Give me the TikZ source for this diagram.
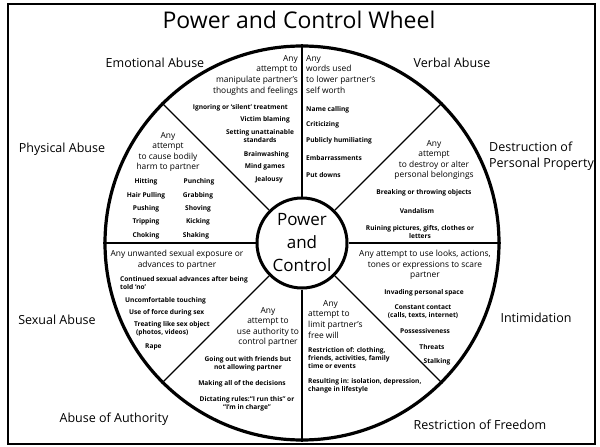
\documentclass[tikz,border=0pt]{standalone}
\usepackage{fontspec}
\setmainfont{Open Sans}
\newfontfamily\itemfont[Ligatures=TeX]{Open Sans}
\usetikzlibrary{positioning}

\tikzset{
  hdr/.style={inner sep=0pt, font=\fontsize{8.4}{10.6}\selectfont},
  itm/.style={inner sep=0pt, font=\itemfont\bfseries\fontsize{6.6}{8.2}\selectfont},
  sector/.style={inner sep=0pt, font=\fontsize{12.5}{16}\selectfont},
}

\begin{document}
\begin{tikzpicture}[x=1pt, y=-1pt]
  \useasboundingbox (0,0) rectangle (600,447);
  \draw [line width=1.8pt] (8,4) rectangle (595,444);
  \node (title) at (299,20) [inner sep=0pt, font=\fontsize{23}{26}\selectfont] {Power and Control Wheel};

  % the wheel
  \node (wheel) at (302,243) [circle, draw, line width=3.2pt, minimum size=394pt, inner sep=0pt] {};
  \node (hub) at (302,243) [circle, draw, line width=3pt, minimum size=90pt, inner sep=0pt,
    align=center, font=\fontsize{17}{23}\selectfont] {Power\\and\\Control};
  \foreach \a in {0,45,...,315}
    \draw [line width=1.4pt] (hub.\a) -- (wheel.\a);

  % sector names
  \node (emo) at (155,63) [sector] {Emotional Abuse};
  \node (verb) at (452,63) [sector] {Verbal Abuse};
  \node (phys) at (62,149) [sector] {Physical Abuse};
  \node (destr) at (489,156) [sector, anchor=west, align=left] {Destruction of\\Personal Property};
  \node (sex) at (57,320) [sector] {Sexual Abuse};
  \node (intim) at (536,318) [sector] {Intimidation};
  \node (auth) at (114,419) [sector] {Abuse of Authority};
  \node (free) at (480,425) [sector] {Restriction of Freedom};

  % emotional abuse
  \node (emoh) at (298,55) [hdr, anchor=north east, align=right]
    {Any\\attempt to\\manipulate partner's\\thoughts and feelings};
  \node (emo1) at (288,108) [itm, anchor=east] {Ignoring or `silent' treatment};
  \node (emo2) at (290,120) [itm, anchor=east] {Victim blaming};
  \node (emo3) at (260,136) [itm, align=center] {Setting unattainable\\standards};
  \node (emo4) at (289,155) [itm, anchor=east] {Brainwashing};
  \node (emo5) at (285,167) [itm, anchor=east] {Mind games};
  \node (emo6) at (283,180) [itm, anchor=east] {Jealousy};

  % verbal abuse
  \node (verbh) at (306,55) [hdr, anchor=north west, align=left]
    {Any\\words used\\to lower partner's\\self worth};
  \node (verb1) at (306,110) [itm, anchor=west] {Name calling};
  \node (verb2) at (306,125) [itm, anchor=west] {Criticizing};
  \node (verb3) at (306,141) [itm, anchor=west] {Publicly humiliating};
  \node (verb4) at (306,158) [itm, anchor=west] {Embarrassments};
  \node (verb5) at (306,175) [itm, anchor=west] {Put downs};

  % physical abuse
  \node (physh) at (168,152) [hdr, align=center] {Any\\attempt\\to cause bodily\\harm to partner};
  \node (phys1) at (146,182) [itm] {Hitting};
  \node (phys2) at (146,196) [itm] {Hair Pulling};
  \node (phys3) at (146,209) [itm] {Pushing};
  \node (phys4) at (146,222) [itm] {Tripping};
  \node (phys5) at (146,236) [itm] {Choking};
  \node (phys6) at (199,182) [itm] {Punching};
  \node (phys7) at (198,196) [itm] {Grabbing};
  \node (phys8) at (198,209) [itm] {Shoving};
  \node (phys9) at (198,222) [itm] {Kicking};
  \node (phys10) at (196,236) [itm] {Shaking};

  % destruction of property
  \node (destrh) at (434,160) [hdr, align=center] {Any\\attempt\\to destroy or alter\\personal belongings};
  \node (destr1) at (424,193) [itm] {Breaking or throwing objects};
  \node (destr2) at (417,211) [itm] {Vandalism};
  \node (destr3) at (420,232) [itm, align=center] {Ruining pictures, gifts, clothes or\\letters};

  % sexual abuse
  \node (sexh) at (177,260) [hdr, align=center] {Any unwanted sexual exposure or\\advances to partner};
  \node (sex1) at (120,283) [itm, anchor=west, align=left] {Continued sexual advances after being\\told `no'};
  \node (sex2) at (125,301) [itm, anchor=west] {Uncomfortable touching};
  \node (sex3) at (129,313) [itm, anchor=west] {Use of force during sex};
  \node (sex4) at (134,329) [itm, anchor=west, align=left] {Treating like sex object\\\hspace*{2pt}(photos, videos)};
  \node (sex5) at (145,347) [itm, anchor=west] {Rape};

  % intimidation
  \node (intimh) at (425,265) [hdr, align=center] {Any attempt to use looks, actions,\\tones or expressions to scare\\partner};
  \node (intim1) at (424,293) [itm] {Invading personal space};
  \node (intim2) at (423,312) [itm, align=center] {Constant contact\\(calls, texts, internet)};
  \node (intim3) at (425,331) [itm] {Possessiveness};
  \node (intim4) at (432,347) [itm] {Threats};
  \node (intim5) at (437,362) [itm] {Stalking};

  % abuse of authority
  \node (authh) at (268,327) [hdr, align=center] {Any\\attempt to\\use authority to\\control partner};
  \node (auth1) at (248,364) [itm, align=center] {Going out with friends but\\not allowing partner};
  \node (auth2) at (242,384) [itm] {Making all of the decisions};
  \node (auth3) at (247,404) [itm, align=center] {Dictating rules:``I run this'' or\\``I'm in charge''};

  % restriction of freedom
  \node (freeh) at (308,300) [hdr, anchor=north west, align=left]
    {\hspace*{15pt}Any\\attempt to\\limit partner's\\free will};
  \node (free1) at (308,358) [itm, anchor=west, align=left] {Restriction of: clothing,\\friends, activities, family\\time or events};
  \node (free2) at (308,386) [itm, anchor=west, align=left] {Resulting in: isolation, depression,\\change in lifestyle};
\end{tikzpicture}
\end{document}
